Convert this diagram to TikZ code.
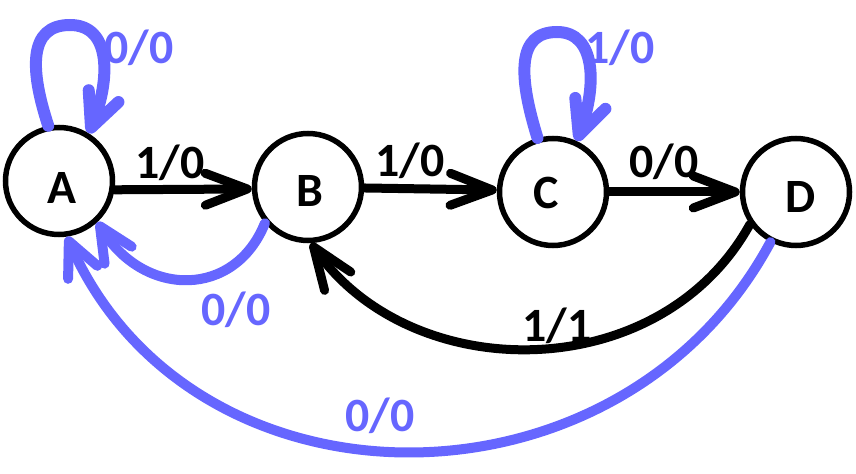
\documentclass[tikz,border=0pt]{standalone}
\usepackage{fontspec}
\setmainfont{Carlito}
\usetikzlibrary{arrows.meta}
\definecolor{eblue}{RGB}{102,102,255}
\begin{document}
\begin{tikzpicture}[x=1bp,y=-1bp,
  state/.style={circle,draw=black,line width=5.5bp,minimum size=107bp,inner sep=0pt},
  stxt/.style={inner sep=0pt,font=\fontsize{48}{48}\selectfont\bfseries},
  lab/.style={inner sep=0pt,font=\fontsize{48}{48}\selectfont\bfseries},
  blk/.style={draw=black,line width=9bp,line cap=round,-{Straight Barb[length=42bp,width=32bp,round]}},
  blu/.style={draw=eblue,line width=10bp,line cap=round,-{Straight Barb[length=34bp,width=32bp,round]}},
  loopst/.style={blu,line width=12bp},
  bluelab/.style={lab,text=eblue}]
\useasboundingbox (0,0) rectangle (856,474);
\node[state] (A) at (59,181) {};
\node[state] (B) at (308,187) {};
\node[state] (C) at (553,192) {};
\node[state] (D) at (796,192) {};
\node[stxt] (tA) at (62,188) {A};
\node[stxt] (tB) at (310,191) {B};
\node[stxt] (tC) at (546,193) {C};
\node[stxt] (tD) at (801,197) {D};
% black transitions
\draw[blk] (A.-9) -- (B.182);
\draw[blk] (B.-1) -- (C.178);
\draw[blk] (C.0) -- (D.180);
\draw[blk] (D.215) .. controls (660,387) and (412,387) .. (B.273);
% blue transitions
\draw[loopst] (A.101) .. controls (30,70) and (28,25) .. (70,25) .. controls (112,25) and (110,80) .. (A.58);
\draw[loopst] (C.106) .. controls (518,75) and (517,32) .. (557,32) .. controls (596,32) and (597,85) .. (C.65);
\draw[blu] (B.220) .. controls (235,298) and (145,298) .. (A.-47);
\draw[blu] (D.243) .. controls (620,522) and (194,522) .. (A.278);
% labels
\node[lab] (lAB) at (170,163) {1/0};
\node[lab] (lBC) at (410,161) {1/0};
\node[lab] (lCD) at (664,162) {0/0};
\node[lab] (lDB) at (557,326) {1/1};
\node[bluelab] (lAA) at (139,48) {0/0};
\node[bluelab] (lCC) at (620,48) {1/0};
\node[bluelab] (lBA) at (236,310) {0/0};
\node[bluelab] (lDA) at (380,416) {0/0};
\end{tikzpicture}
\end{document}
